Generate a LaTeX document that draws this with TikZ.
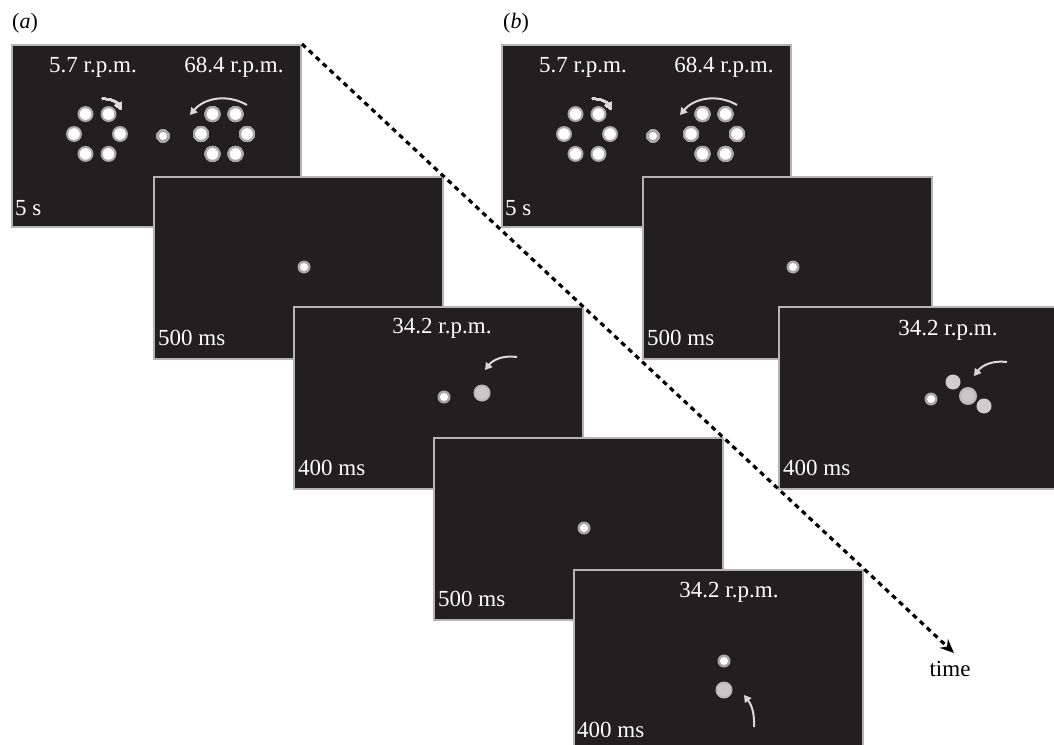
\documentclass[tikz,border=0pt]{standalone}
\usepackage{fontspec}
\setmainfont{Liberation Serif}
\usetikzlibrary{arrows.meta,calc}
\definecolor{scrn}{HTML}{231F20}
\definecolor{rim}{HTML}{B4B4B4}
\definecolor{ring}{HTML}{A8A8A8}
\definecolor{disc}{HTML}{C8C8C8}
\tikzset{
  screen/.style={fill=scrn, draw=rim, line width=2pt},
  lbl/.style={text=white, font=\fontsize{23}{23}\selectfont, inner sep=0pt, anchor=base},
  dur/.style={text=white, font=\fontsize{23}{23}\selectfont, inner sep=0pt, anchor=base west},
  turn/.style={draw=disc!70!white, line width=2pt, -{Triangle[width=8pt,length=7pt]}},
  timeline/.style={line width=3.2pt, dash pattern=on 5pt off 4.5pt, -{Stealth[length=14pt,width=12pt]}}
}
% a bright dot with a grey halo
\newcommand{\spot}[3]{%
  \fill[ring] (#1) circle (#2);
  \fill[white] (#1) circle (#3);}
% six dots round a centre
\newcommand{\sixring}[1]{%
  \foreach \ang in {0,60,...,300}
    \spot{$(#1)+(\ang:23)$}{8}{5.8}}
% the first screen: two rings and the fixation dot
\newcommand{\firstscreen}[2]{%
  \node[screen, minimum width=289, minimum height=182, anchor=north west] (#2) at (#1) {};
  \begin{scope}[shift={(#1)}]
    \node[lbl] at (82,-28) {5.7 r.p.m.};
    \node[lbl] at (223,-28) {68.4 r.p.m.};
    \sixring{86,-90}
    \sixring{213,-90}
    \spot{152,-92}{6.5}{4}
    \draw[turn] (91,-55) to[bend left=35] (110,-66);
    \draw[turn] (236,-61) to[bend right=40] (179,-71);
    \node[dur] at (4,-171) {5 s};
  \end{scope}}
% a screen with the fixation dot only
\newcommand{\fixscreen}[2]{%
  \node[screen, minimum width=289, minimum height=182, anchor=north west] (#2) at (#1) {};
  \begin{scope}[shift={(#1)}]
    \spot{151,-91}{6.5}{4}
    \node[dur] at (5,-169) {500 ms};
  \end{scope}}
\begin{document}
\begin{tikzpicture}[x=1pt, y=1pt]
\useasboundingbox (0,0) rectangle (1054,-744);
\clip (0,0) rectangle (1054,-744);

% (a)
\node[anchor=base west, inner sep=0pt, font=\fontsize{22}{22}\selectfont] (la) at (12,-28) {(\textit{a})};
\firstscreen{11,-44}{a1}
\fixscreen{153,-176}{a2}
\node[screen, minimum width=289, minimum height=182, anchor=north west] (a3) at (293,-306) {};
\begin{scope}[shift={(293,-306)}]
  \node[lbl] at (149,-27) {34.2 r.p.m.};
  \spot{151,-91}{6.5}{4}
  \fill[ring!80!white] (189,-87) circle (8.5);
  \fill[disc] (189,-87) circle (6.5);
  \draw[turn] (224,-51) to[bend right=30] (192,-64);
  \node[dur] at (5,-169) {400 ms};
\end{scope}
\fixscreen{433,-437}{a4}
\node[screen, minimum width=289, minimum height=182, anchor=north west] (a5) at (573,-569) {};
\begin{scope}[shift={(573,-569)}]
  \node[lbl] at (156,-28) {34.2 r.p.m.};
  \spot{151,-92}{6.5}{4}
  \fill[ring!80!white] (151,-121) circle (8.5);
  \fill[disc] (151,-121) circle (6.5);
  \draw[turn] (181,-158) to[bend right=20] (171,-126);
  \node[dur] at (4,-168) {400 ms};
\end{scope}

% (b)
\node[anchor=base west, inner sep=0pt, font=\fontsize{22}{22}\selectfont] (lb) at (503,-28) {(\textit{b})};
\firstscreen{501,-44}{b1}
\fixscreen{642,-176}{b2}
\node[screen, minimum width=289, minimum height=182, anchor=north west] (b3) at (778,-306) {};
\begin{scope}[shift={(778,-306)}]
  \node[lbl] at (170,-29) {34.2 r.p.m.};
  \spot{153,-93}{6.5}{4}
  \fill[disc!90!white] (175,-76) circle (7.5);
  \fill[disc!90!white] (206,-100) circle (7.5);
  \fill[ring!80!white] (190,-90) circle (9);
  \fill[disc] (190,-90) circle (6.5);
  \draw[turn] (229,-56) to[bend right=30] (196,-70);
  \node[dur] at (5,-169) {400 ms};
\end{scope}

% time axis
\coordinate (tend) at (954,-653);
\draw[timeline] (a1.north east) -- (tend);
\node[anchor=base, inner sep=0pt, font=\fontsize{23}{23}\selectfont] (tlab) at (950,-676) {time};
\end{tikzpicture}
\end{document}
